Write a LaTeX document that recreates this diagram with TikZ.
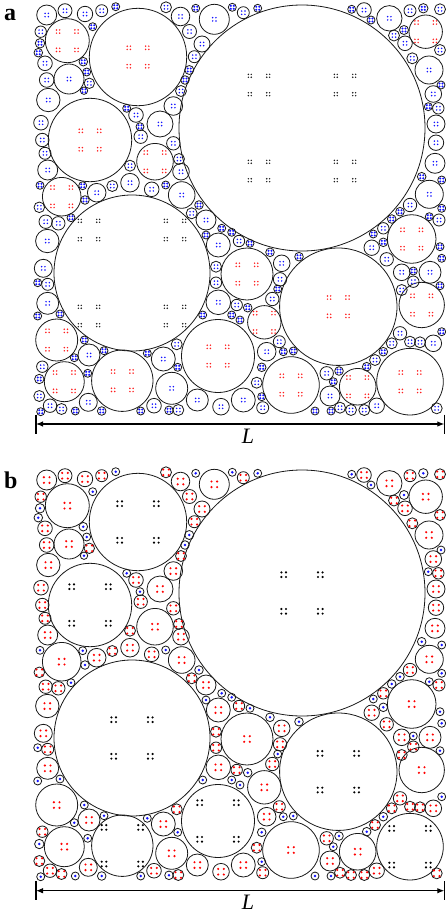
\documentclass[tikz,border=0pt]{standalone}
\usepackage{fontspec}
\setmainfont{Liberation Serif}
\usetikzlibrary{arrows.meta}
\definecolor{dotred}{RGB}{255,30,30}
\definecolor{dotblue}{RGB}{20,20,255}
\definecolor{dotgray}{RGB}{25,25,25}
\definecolor{bred}{RGB}{255,0,0}
\tikzset{ring/.style={draw=black!90,line width=0.8pt},
 dimline/.style={line width=1.1pt,{Latex[length=7pt,width=5.5pt]}-{Latex[length=7pt,width=5.5pt]}},
 endtick/.style={line width=1.1pt},
 panellabel/.style={font=\bfseries\fontsize{24}{24}\selectfont,anchor=base west,inner sep=0pt},
 lenlabel/.style={font=\itshape\fontsize{22}{22}\selectfont,anchor=base,inner sep=0pt}}

\newcommand\fourdots[5]{\fill[#5] ({#1-#3},{#2-#3}) circle[radius=#4pt] ({#1+#3},{#2-#3}) circle[radius=#4pt] ({#1-#3},{#2+#3}) circle[radius=#4pt] ({#1+#3},{#2+#3}) circle[radius=#4pt];}

\newcommand\cira[3]{\edef\rr{#3}%
 \begin{scope}[shift={(#1,#2)}]
 \draw[ring] (0,0) circle[radius=\rr pt];
 \ifdim\rr pt>70pt
  \foreach \gx in {-43,43}{\foreach \gy in {-43,43}{\foreach \hx in {-9.2,9.2}{\foreach \hy in {-9.2,9.2}{\pgfmathsetmacro\qx{\gx+(\hx)}\pgfmathsetmacro\qy{\gy+(\hy)}\fourdots{\qx}{\qy}{1.45}{0.8}{dotgray}}}}}%
 \else\ifdim\rr pt>16.5pt
  \foreach \hx in {-9.2,9.2}{\foreach \hy in {-9.2,9.2}{\fourdots{\hx}{\hy}{1.6}{0.85}{dotred}}}%
 \else\ifdim\rr pt>5pt
  \fourdots{0}{0}{1.65}{0.85}{dotblue}%
 \else
  \fourdots{0}{0}{1.5}{1.15}{dotblue}%
 \fi\fi\fi
 \end{scope}}

\newcommand\cirb[3]{\edef\rr{#3}%
 \begin{scope}[shift={(#1,{#2+465})}]
 \draw[ring] (0,0) circle[radius=\rr pt];
 \ifdim\rr pt>29pt
  \foreach \hx in {-18.3,18.3}{\foreach \hy in {-18.3,18.3}{\fourdots{\hx}{\hy}{2.3}{1.2}{black}}}%
 \else\ifdim\rr pt>5pt
  \fourdots{0}{0}{2.8}{1.2}{bred}%
 \else
  \fill[dotblue] (0,0) circle[radius=1.4pt];
 \fi\fi
 \end{scope}}

\def\circlelist{302/128/123, 132/273/78,
46.7/15/10, 65/10.7/7, 85/14/7.7, 101.7/10.7/6, 115.7/6.7/4, 166/7.3/5.5, 180.5/16.5/9.3, 195.7/8.3/4, 214.3/19.3/15,
40.7/31.7/5.7, 40/43.3/4.7, 38.3/52.7/4.3, 45/63.3/7.3, 46.7/80/7.3, 48.3/100/11.7, 41/122.7/7.3, 42.3/140/6.7, 45/153.3/6, 47.7/170/10, 40/185.3/4,
61.7/196.7/19.3, 39.3/207.3/5.3, 45.7/221.7/6.7, 58.3/223.3/6.7, 71/217.7/4,
67.3/40.7/22, 138/57/48.7, 69/79/15, 90/140/41.7, 155/161.7/18.3, 160/124/13, 181.7/195/13.3, 173.3/106/9.3, 189.5/31.5/7, 202/44/8,
136/115/7.3, 140.7/136.7/6.7, 126.7/108.3/4, 140/126.7/4, 173.3/143.3/6.7, 181/171.7/8.3, 179/159/5.5, 130/165.7/5.5, 130/182.7/9.3,
151.7/189.3/7.3, 165.7/185/4, 112.3/186/5.5, 96.7/192.7/9.3, 82.7/185.7/4, 85/200/4.3, 83.3/61.7/4.3, 86.7/72/4, 89.3/83.3/5.2, 84/90.7/3.7,
92.7/26.7/4, 189.3/70/4.5, 194.3/56.7/6, 185/80/4.3, 181/91/5.5, 199/205/4.3, 191.7/213.3/5.5, 206/220/10,
47.3/241/11.7, 43.3/268.3/9, 37.7/282.7/4, 47.7/284.3/6, 47.7/303.3/11, 37.7/316/4, 60/314/4, 56.7/340/21, 84.3/340/4, 89/355/11,
74.3/357.7/4, 104/350.7/4, 42.3/366.7/5.7, 39.3/379/4.7, 64.3/381.7/20, 87.7/373.3/4, 122.3/380.7/30.7, 39.3/396/5.5, 50/405.7/6.7,
61.5/409/5.5, 40.7/411.7/4, 75.3/411/4, 88.3/402.3/9, 101.7/411/4.3, 140.7/411/4, 154/405.7/7.3, 169/410.3/4.3, 178.3/410/5.5,
147.3/353.3/4, 163.3/359/12, 176.7/344.3/5.5, 177.7/367.3/4, 171.7/388.3/16, 197.3/400/11, 221/406.7/8.3, 202.7/315/4,
218.3/245/12, 221.7/228.3/4, 206/235/4, 216/266.7/5.5, 216/282.7/5.7, 218.3/302.3/12.3, 218/356/36.5,
231.7/232.3/4, 239/241/5.7, 250/243.3/4, 247/274/26, 236.7/305/5.7, 247.7/307.7/4.3, 231.7/315/4, 240/320/4, 264.3/322.3/16.7,
270/252.3/4.3, 281.7/263.3/8.3, 280/279.3/6.7, 277.7/289/4, 272.3/299/6.7, 299/256.7/4.3, 338.3/306.7/58.7,
266.7/351.7/9.3, 279.3/341.7/6, 283.3/351.7/4, 293.3/351/4, 261.7/367.3/4.3, 291/385/28.3, 256.7/382.7/5.5, 261.7/396.7/4,
243.3/400/12, 262.7/407.7/6, 315/411/4, 326.7/373.3/6.7, 339/371/4.3, 333.3/381.7/4, 330/396/10, 331/411/4, 340/407.7/5.5,
351/410/5.5, 357.7/386.7/18.3, 364.3/410/5.5, 376.7/405.7/7.7, 366.7/366.7/4.3, 375/360/5.5, 383.3/351.7/4.3, 410/381.7/33.3,
436.7/408.3/5.5, 391.7/343.3/5.5, 400/333.3/6.7, 410/341.7/5.5, 420/342.3/5.5, 433.3/343.3/8.3, 441.7/331.7/4, 421.7/305/22.7,
401.7/290/5.5, 401.7/272.3/8.3, 413.3/271/4, 413.3/281.7/5.7, 430/272.3/11, 440/285.7/4, 386.7/259.3/6.7, 371.7/247.7/7.7,
383.3/242.3/4.3, 373.3/234/4, 383.3/228.3/5.7, 411.7/239/24.3, 440/246.7/4, 441.7/258.3/4,
232.3/7.3/4, 243.3/12.7/6, 257.7/8.3/4, 351.7/9.3/4, 364/10/7.3, 371/20/4, 389.3/18.3/12.7, 410/10.7/6, 423.3/8.3/4.7, 440/9.3/5.5,
425.7/31.7/16.7, 404/30/4.5, 394/35.5/5.5, 405/43.3/7.3, 440/50/5.5, 412.3/58.3/5.5, 429/70/14, 441/85/4, 433.3/94/8.3,
428.3/106.7/4, 438.3/108.3/5.7, 436/124/9, 436/142.7/7.7, 435/163.3/10, 421.7/176.7/4.3, 441.7/180/4, 429.3/194.3/14,
410/205/6.7, 400/211.7/4.3, 391.7/219/4.3, 429.3/216.7/4, 439/220/6, 441.7/208.3/4}

\begin{document}
\begin{tikzpicture}[x=1pt,y=-1pt]
\useasboundingbox (0,0) rectangle (445,913);
\fill[white] (0,0) rectangle (445,913);
\foreach \ux/\uy/\ur in \circlelist {\cira{\ux}{\uy}{\ur}\cirb{\ux}{\uy}{\ur}}
% panel a dimension
\coordinate (aL) at (36,424); \coordinate (aR) at (444.3,424);
\coordinate (aLt) at (36,414.5); \coordinate (aLb) at (36,433.5);
\coordinate (aRt) at (444.3,414.5); \coordinate (aRb) at (444.3,433.5);
\draw[endtick] (aLt) -- (aLb);
\draw[endtick] (aRt) -- (aRb);
\draw[dimline] (aL) -- (aR);
\node[lenlabel] (La) at (248,443.3) {L};
\node[panellabel] (labA) at (4,20.7) {a};
% panel b dimension
\coordinate (bL) at (36,890.7); \coordinate (bR) at (444.3,890.7);
\coordinate (bLt) at (36,881); \coordinate (bLb) at (36,900);
\coordinate (bRt) at (444.3,881); \coordinate (bRb) at (444.3,900);
\draw[endtick] (bLt) -- (bLb);
\draw[endtick] (bRt) -- (bRb);
\draw[dimline] (bL) -- (bR);
\node[lenlabel] (Lb) at (248,909.3) {L};
\node[panellabel] (labB) at (4,488.3) {b};
\end{tikzpicture}
\end{document}
